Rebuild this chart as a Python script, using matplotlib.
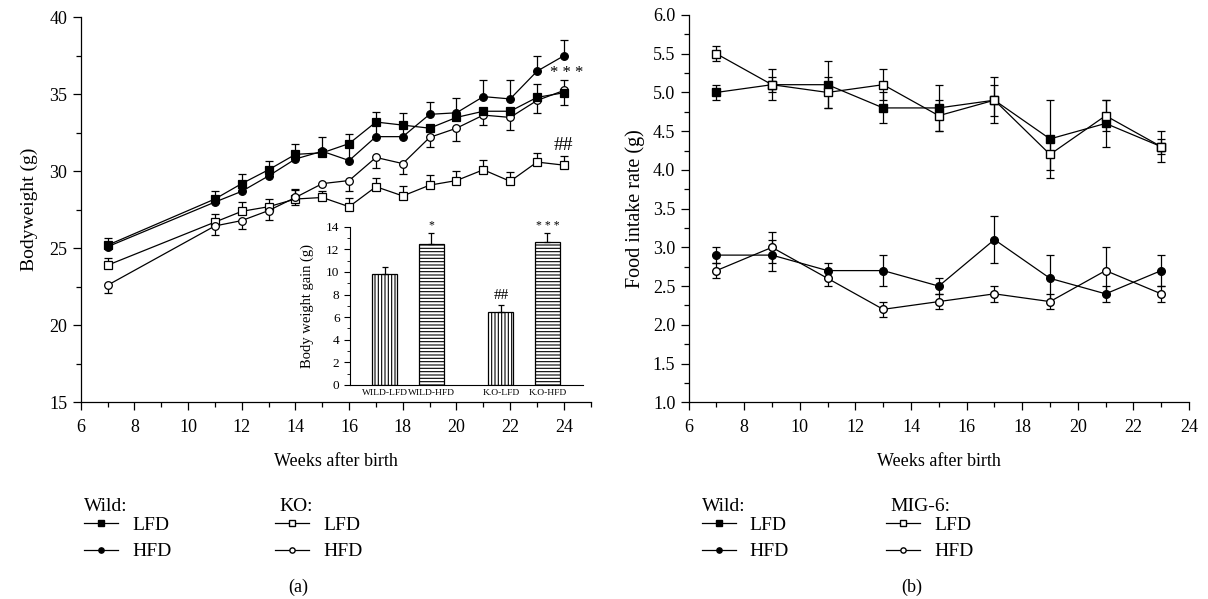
"""
Bodyweight and food intake of wild-type and KO mice after birth.
"""

import matplotlib
matplotlib.use('Agg')
import matplotlib.pyplot as plt
from matplotlib.lines import Line2D
from matplotlib.ticker import MultipleLocator, FormatStrFormatter

plt.rcParams['font.family'] = ['Liberation Serif', 'DejaVu Serif']
plt.rcParams['hatch.linewidth'] = 0.8

# Panel (a): bodyweight [g]
# ----------------------------------------------------------------------------

weeks_a = [7, 11, 12, 13, 14, 15, 16, 17, 18, 19, 20, 21, 22, 23, 24]

bw_wild_lfd = [25.2, 28.2, 29.2, 30.1, 31.1, 31.2, 31.8, 33.2, 33.0, 32.8,
               33.5, 33.9, 33.9, 34.8, 35.1]
bw_wild_lfd_lo = [0, 0, 0, 0, 0, 0, 0, 0, 0, 0, 0, 0, 0, 0, 0.8]
bw_wild_lfd_hi = [0.45, 0.55, 0.65, 0.6, 0.65, 1.0, 0.6, 0.65, 0.8, 0, 0,
                  0, 0, 0.9, 0]

bw_wild_hfd = [25.1, 28.0, 28.7, 29.7, 30.8, 31.3, 30.7, 32.25, 32.25, 33.7,
               33.8, 34.85, 34.7, 36.5, 37.5]
bw_wild_hfd_lo = [0] * 15
bw_wild_hfd_hi = [0, 0, 0, 0, 0, 0, 1.0, 0.9, 0.75, 0.8, 0.95, 1.05, 1.2,
                  1.0, 1.0]

bw_ko_lfd = [23.9, 26.7, 27.4, 27.7, 28.2, 28.3, 27.7, 29.0, 28.4, 29.1,
             29.4, 30.1, 29.35, 30.6, 30.4]
bw_ko_lfd_lo = [0] * 15
bw_ko_lfd_hi = [0.48, 0.5, 0.6, 0.5, 0.6, 0.45, 0.55, 0.56, 0.63, 0.65, 0.6,
                0.63, 0.63, 0.6, 0.6]

bw_ko_hfd = [22.6, 26.45, 26.8, 27.45, 28.3, 29.2, 29.4, 30.9, 30.5, 32.2,
             32.8, 33.65, 33.5, 34.6, 35.25]
bw_ko_hfd_lo = [0.5, 0.6, 0.55, 0.6, 0.5, 0, 0.7, 0.7, 0.7, 0.65, 0.85, 0.65,
                0.8, 0.8, 0]
bw_ko_hfd_hi = [0, 0, 0, 0, 0.55, 0, 0, 0, 0, 0, 0, 0, 0, 0, 0.7]

# Inset: body weight gain [g]
gain_labels = ['WILD-LFD', 'WILD-HFD', 'K.O-LFD', 'K.O-HFD']
gain_pos = [1, 2, 3.5, 4.5]
gain = [9.8, 12.45, 6.45, 12.6]
gain_err = [0.6, 1.0, 0.65, 0.8]
gain_marks = ['', '*', '##', '* * *']

# Panel (b): food intake rate [g]
# ----------------------------------------------------------------------------

weeks_b = [7, 9, 11, 13, 15, 17, 19, 21, 23]

fi_wild_lfd = [5.0, 5.1, 5.1, 4.8, 4.8, 4.9, 4.4, 4.6, 4.3]
fi_wild_lfd_err = [0.1, 0.1, 0.3, 0.2, 0.3, 0.3, 0.5, 0.3, 0.1]
fi_wild_hfd = [2.9, 2.9, 2.7, 2.7, 2.5, 3.1, 2.6, 2.4, 2.7]
fi_wild_hfd_err = [0.1, 0.2, 0.1, 0.2, 0.1, 0.3, 0.3, 0.1, 0.2]
fi_mig_lfd = [5.5, 5.1, 5.0, 5.1, 4.7, 4.9, 4.2, 4.7, 4.3]
fi_mig_lfd_err = [0.1, 0.2, 0.2, 0.2, 0.2, 0.2, 0.2, 0.2, 0.2]
fi_mig_hfd = [2.7, 3.0, 2.6, 2.2, 2.3, 2.4, 2.3, 2.7, 2.4]
fi_mig_hfd_err = [0.1, 0.2, 0.1, 0.1, 0.1, 0.1, 0.1, 0.3, 0.1]

# Plot
# ----------------------------------------------------------------------------

FS = 13
FS_LEG = 14
ms = 5.5


def style_axes(ax):
    for side in ('top', 'right'):
        ax.spines[side].set_visible(False)
    for side in ('left', 'bottom'):
        ax.spines[side].set_linewidth(0.9)
    ax.tick_params(which='major', direction='out', length=6, width=0.9,
                   labelsize=FS)
    ax.tick_params(which='minor', direction='out', length=3.5, width=0.9)
    ax.tick_params(axis='x', which='major', pad=6)


def series(ax, x, y, lo, hi, marker, face):
    ax.errorbar(x, y, yerr=[lo, hi], color='black', lw=0.9, elinewidth=0.9,
                capsize=3, capthick=0.9, marker=marker, ms=ms,
                mfc=face, mec='black', mew=0.9, zorder=3)


fig = plt.figure(figsize=(12.08, 5.99), dpi=100)

# (a)
ax1 = fig.add_axes([0.0668, 0.3284, 0.4222, 0.6427])
series(ax1, weeks_a, bw_ko_lfd, bw_ko_lfd_lo, bw_ko_lfd_hi, 's', 'white')
series(ax1, weeks_a, bw_ko_hfd, bw_ko_hfd_lo, bw_ko_hfd_hi, 'o', 'white')
series(ax1, weeks_a, bw_wild_hfd, bw_wild_hfd_lo, bw_wild_hfd_hi, 'o',
       'black')
series(ax1, weeks_a, bw_wild_lfd, bw_wild_lfd_lo, bw_wild_lfd_hi, 's',
       'black')
ax1.set_xlim(6, 25)
ax1.set_ylim(15, 40)
ax1.xaxis.set_major_locator(MultipleLocator(2))
ax1.xaxis.set_minor_locator(MultipleLocator(1))
ax1.yaxis.set_major_locator(MultipleLocator(5))
ax1.yaxis.set_minor_locator(MultipleLocator(2.5))
style_axes(ax1)
ax1.set_xlabel('Weeks after birth', fontsize=FS, labelpad=12)
ax1.set_ylabel('Bodyweight (g)', fontsize=FS + 1, labelpad=8)
ax1.text(24.1, 36.4, '* * *', ha='center', va='center', fontsize=12)
ax1.text(24, 31.65, '##', ha='center', va='center', fontsize=14)

# inset
axi = fig.add_axes([0.2897, 0.3573, 0.1926, 0.2643])
axi.bar(gain_pos[0::2], gain[0::2], width=0.54, color='white',
        edgecolor='black', lw=0.9, hatch='|||||', zorder=2)
axi.bar(gain_pos[1::2], gain[1::2], width=0.54, color='white',
        edgecolor='black', lw=0.9, hatch='-----', zorder=2)
axi.errorbar(gain_pos, gain, yerr=[[0] * 4, gain_err], fmt='none',
             ecolor='black', elinewidth=0.9, capsize=2.5, capthick=0.9,
             zorder=3)
for p, g, e, m in zip(gain_pos, gain, gain_err, gain_marks):
    if m == '##':
        axi.text(p, g + e + 0.25, m, ha='center', va='bottom', fontsize=11)
    elif m:
        axi.text(p, 13.55, m, ha='center', va='bottom', fontsize=8.5)
axi.set_xlim(0.25, 5.26)
axi.set_ylim(0, 14)
axi.set_xticks(gain_pos)
axi.set_xticklabels(gain_labels, fontsize=6.8)
axi.yaxis.set_major_locator(MultipleLocator(2))
axi.yaxis.set_minor_locator(MultipleLocator(1))
for side in ('top', 'right'):
    axi.spines[side].set_visible(False)
axi.patch.set_alpha(0)
axi.tick_params(axis='y', which='major', direction='out', length=4,
                labelsize=9.5, pad=3.5)
axi.tick_params(axis='y', which='minor', direction='out', length=2.5)
axi.tick_params(axis='x', length=0, pad=3)
axi.set_ylabel('Body weight gain (g)', fontsize=10.5, labelpad=9)

# (b)
ax2 = fig.add_axes([0.570, 0.3284, 0.4143, 0.6466])
ax2.errorbar(weeks_b, fi_wild_lfd, yerr=fi_wild_lfd_err, color='black',
             lw=0.9, capsize=3, capthick=0.9, marker='s', ms=ms, mfc='black',
             mec='black', zorder=3)
ax2.errorbar(weeks_b, fi_mig_lfd, yerr=fi_mig_lfd_err, color='black',
             lw=0.9, capsize=3, capthick=0.9, marker='s', ms=ms, mfc='white',
             mec='black', zorder=3)
ax2.errorbar(weeks_b, fi_wild_hfd, yerr=fi_wild_hfd_err, color='black',
             lw=0.9, capsize=3, capthick=0.9, marker='o', ms=ms, mfc='black',
             mec='black', zorder=3)
ax2.errorbar(weeks_b, fi_mig_hfd, yerr=fi_mig_hfd_err, color='black',
             lw=0.9, capsize=3, capthick=0.9, marker='o', ms=ms, mfc='white',
             mec='black', zorder=3)
ax2.set_xlim(6, 24)
ax2.set_ylim(1.0, 6.0)
ax2.xaxis.set_major_locator(MultipleLocator(2))
ax2.xaxis.set_minor_locator(MultipleLocator(1))
ax2.yaxis.set_major_locator(MultipleLocator(0.5))
ax2.yaxis.set_minor_locator(MultipleLocator(0.25))
ax2.yaxis.set_major_formatter(FormatStrFormatter('%.1f'))
style_axes(ax2)
ax2.set_xlabel('Weeks after birth', fontsize=FS, labelpad=12)
ax2.set_ylabel('Food intake rate (g)', fontsize=FS + 1.5, labelpad=6)

# Legends below panels
# ----------------------------------------------------------------------------


def handle(marker, face):
    return Line2D([], [], color='black', lw=0.9, marker=marker, ms=3.8,
                  mfc=face, mec='black')


def legend_block(x_text, x_handle, title, face):
    fig.text(x_text, 0.1474, title, fontsize=FS_LEG, ha='left',
             va='baseline')
    fig.legend([handle('s', face), handle('o', face)], ['LFD', 'HFD'],
               loc='upper left', bbox_to_anchor=(x_handle, 0.138),
               frameon=False, fontsize=FS_LEG, handlelength=1.75,
               handletextpad=0.72, labelspacing=0.45, borderpad=0,
               borderaxespad=0)


legend_block(0.0695, 0.0695, 'Wild:', 'black')
legend_block(0.231, 0.2276, 'KO:', 'white')
legend_block(0.581, 0.581, 'Wild:', 'black')
legend_block(0.737, 0.7335, 'MIG-6:', 'white')

fig.text(0.2467, 0.012, '(a)', fontsize=FS, ha='center', va='baseline')
fig.text(0.7545, 0.012, '(b)', fontsize=FS, ha='center', va='baseline')

fig.savefig('out.png', dpi=100)
